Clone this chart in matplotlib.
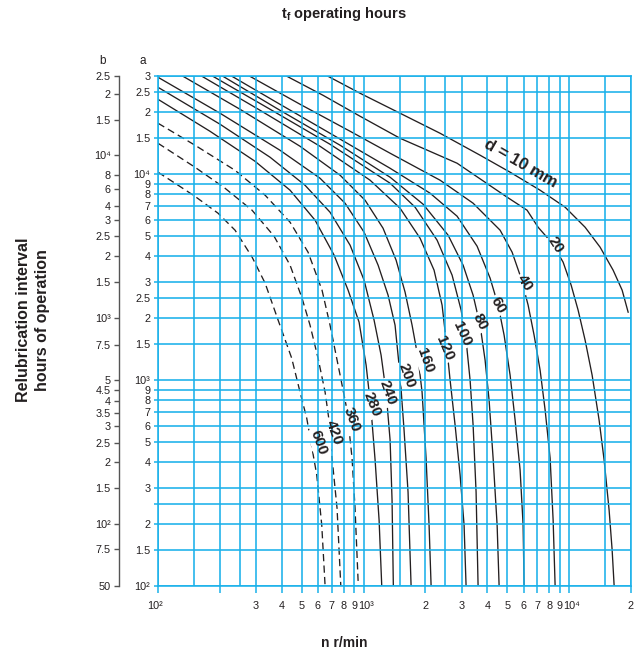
import matplotlib
matplotlib.use('Agg')
import matplotlib.pyplot as plt
from matplotlib.ticker import FixedLocator, NullLocator

plt.rcParams['font.family'] = ['Liberation Sans', 'DejaVu Sans']
plt.rcParams['mathtext.fontset'] = 'custom'
plt.rcParams['mathtext.rm'] = 'Liberation Sans'
plt.rcParams['mathtext.bf'] = 'Liberation Sans:bold'
plt.rcParams['mathtext.it'] = 'Liberation Sans:italic'

# ---------------- data (n in r/min, tf on scale a) ----------------
n_10 = [672, 962, 1505, 2357, 3689, 5163, 7225, 9561, 11960, 14150, 16370, 18110, 19370]
tf_10 = [29900, 24730, 19780, 15810, 12370, 10230, 8363, 6917, 5528, 4422, 3420, 2735, 2138]

n_20 = [424, 635, 962, 1505, 2851, 4993, 6245, 7066, 8267, 9350, 10230, 11060, 11960, 12940,
        13990, 14800, 15650, 16190, 16560]
tf_20 = [29900, 24180, 19120, 14950, 11310, 7735, 6687, 5528, 4624, 3739, 2892, 2187, 1564, 1057,
         640, 409, 233.8, 149.6, 100]

n_40 = [280, 491, 860, 1346, 2357, 3411, 4616, 5280, 5840, 6318, 6755, 7225, 7644, 8082, 8360, 8549]
tf_40 = [29900, 21870, 16170, 12650, 9352, 7232, 5348, 4182, 3127, 2313, 1653, 1118, 715, 418, 209, 100]

n_60 = [229, 392, 687, 1346, 2107, 2851, 3567, 4127, 4514, 4828, 5163, 5461, 5775, 5973, 6039]
tf_60 = [29900, 21870, 15810, 10690, 8088, 6254, 4472, 3127, 2313, 1653, 1057, 640, 365.7, 197.8, 100]

n_80 = [207, 392, 769, 1346, 1948, 2578, 3050, 3411, 3689, 3901, 4080, 4268, 4464, 4565]
tf_80 = [29900, 20450, 13830, 9670, 7152, 5057, 3616, 2586, 1849, 1251, 800, 418, 197.8, 100]

n_100 = [185, 351, 687, 1346, 1781, 2279, 2696, 2983, 3153, 3298, 3411, 3527, 3607]
tf_100 = [29900, 20680, 13980, 9045, 6917, 4782, 3234, 2187, 1564, 1000, 604.8, 285.9, 100]

n_120 = [163.7, 313.6, 614, 1076, 1505, 1883, 2203, 2410, 2520, 2636, 2788, 2949, 3083, 3153]
tf_120 = [29900, 20450, 13670, 9352, 6839, 4890, 3420, 2313, 1564, 1000, 604.8, 345.8, 197.8, 100]

n_160 = [132.4, 250.6, 491, 769, 1017, 1244, 1440, 1592, 1722, 1842, 1926, 2014, 2083, 2131]
tf_160 = [29900, 20680, 13670, 9888, 7479, 5467, 3824, 2674, 1849, 1279, 874, 418, 197.8, 100]

n_200 = [100, 200.4, 392, 614, 813, 1006, 1177, 1316, 1423, 1505, 1574, 1646, 1703]
tf_200 = [29580, 19780, 13080, 9563, 7232, 5229, 3616, 2586, 1849, 1057, 571.9, 285.9, 100]

n_240 = [100, 200.4, 351, 519, 687, 860, 1006, 1125, 1217, 1287, 1346, 1376, 1396]
tf_240 = [26440, 17490, 12090, 8843, 6539, 4522, 3058, 1956, 1322, 874, 511.2, 261.5, 100]

n_280 = [100, 179, 296.5, 439, 581, 719, 841, 951, 1029, 1088, 1138, 1190, 1226]
tf_280 = [23120, 16170, 11560, 8363, 5980, 4044, 2735, 1912, 1183, 715, 409, 209, 100]

n_360 = [100, 151.4, 237, 332, 439, 537, 628, 687, 769, 831, 879, 909, 943]
tf_360 = [17690, 13830, 10450, 7910, 5848, 4182, 2735, 1849, 1057, 715, 418, 239, 100]

n_420 = [100, 151.4, 211.8, 286.7, 367, 439, 502, 549, 600.6, 650, 679, 702.6, 743, 775]
tf_420 = [14140, 10810, 8551, 6687, 5000, 3616, 2500, 1849, 1279, 874, 640, 418, 239, 100]

n_600 = [100, 121, 151, 196, 237, 287, 332, 384, 447, 491, 529, 592, 626, 650]
tf_600 = [10230, 9045, 7820, 6465, 5350, 3955, 2957, 1956, 1279, 874, 654, 346, 198, 100]

solid_curves = [(n_10, tf_10), (n_20, tf_20), (n_40, tf_40), (n_60, tf_60), (n_80, tf_80),
                (n_100, tf_100), (n_120, tf_120), (n_160, tf_160), (n_200, tf_200),
                (n_240, tf_240), (n_280, tf_280)]
dashed_curves = [(n_360, tf_360), (n_420, tf_420), (n_600, tf_600)]

curve_labels = ['d = 10 mm', '20', '40', '60', '80', '100', '120', '160', '200', '240', '280',
                '360', '420', '600']
label_n = [5775, 8549, 6107, 4514, 3689, 3016, 2493, 1993, 1628, 1316, 1100, 879, 718.6, 607.4]
label_tf = [11310, 4522, 2957, 2313, 1912, 1672, 1430, 1251, 1057, 874, 764.7, 646.7, 553, 500]
label_rot = [-30, -57, -57, -60, -63, -65, -67, -70, -70, -70, -68, -70, -70, -70]

x_grid = [100, 150, 200, 250, 300, 400, 500, 600, 700, 800, 900, 1000, 1500, 2000, 2500, 3000,
          4000, 5000, 6000, 7000, 8000, 9000, 10000, 15000, 20000]
x_ticks = [100, 200, 300, 400, 500, 600, 700, 800, 900, 1000, 2000, 3000, 4000, 5000, 6000,
           7000, 8000, 9000, 10000, 20000]
x_ticklabels = ['10²', '', '3', '4', '5', '6', '7', '8', '9', '10³', '2', '3', '4', '5',
                '6', '7', '8', '9', '10⁴', '2']

a_ticks = [100, 150, 200, 250, 300, 400, 500, 600, 700, 800, 900, 1000, 1500, 2000, 2500, 3000,
           4000, 5000, 6000, 7000, 8000, 9000, 10000, 15000, 20000, 25000, 30000]
a_ticklabels = ['10²', '1.5', '2', '', '3', '4', '5', '6', '7', '8', '9', '10³', '1.5', '2',
                '2.5', '3', '4', '5', '6', '7', '8', '9', '10⁴', '1.5', '2', '2.5', '3']

# b scale: label and its position on the a scale
b_ticklabels = ['50', '7.5', '10²', '1.5', '2', '2.5', '3', '3.5', '4', '4.5', '5', '7.5',
                '10³', '1.5', '2', '2.5', '3', '4', '6', '8', '10⁴', '1.5', '2', '2.5']
b_tick_at_a = [100, 150.7, 199.3, 300, 398.6, 496, 598, 694, 793, 894, 1000, 1479,
               2006, 3001, 4000, 5000, 5980, 7018, 8522, 9966, 12460, 18440, 24450, 29900]

# ---------------- drawing ----------------
BLUE = '#1ab1ea'
DARK = '#231f20'
FS_TICK = 7.8

fig = plt.figure(figsize=(6.44, 6.56), dpi=100)
W, H = 644, 656
L, R, T, B = 158, 631, 76, 586
pos = [L / W, 1 - B / H, (R - L) / W, (B - T) / H]
ax = fig.add_axes(pos)
ax.set_xscale('log')
ax.set_yscale('log')
ax.set_xlim(100, 20000)
ax.set_ylim(100, 30000)

for v in x_grid:
    ax.axvline(v, color=BLUE, lw=1.15, zorder=3)
for v in a_ticks:
    ax.axhline(v, color=BLUE, lw=1.15, zorder=3)

for n, t in solid_curves:
    ax.plot(n, t, color=DARK, lw=0.95, zorder=2, solid_joinstyle='round')
for n, t in dashed_curves:
    ax.plot(n, t, color=DARK, lw=0.95, zorder=2, dashes=(5.5, 3.2))

for i, (lab, xn, yt, rot) in enumerate(zip(curve_labels, label_n, label_tf, label_rot)):
    fs = 12 if i == 0 else 11
    if i > 0:
        ax.text(xn, yt, lab, rotation=rot, ha='center', va='center', fontsize=fs,
                fontweight='bold', color='white', zorder=2.5, rotation_mode='anchor',
                bbox=dict(boxstyle='square,pad=0.12', fc='white', ec='none'))
    ax.text(xn, yt, lab, rotation=rot, ha='center', va='center', fontsize=fs,
            fontweight='bold', color=DARK, zorder=5, rotation_mode='anchor')

# x axis ticks; labels drawn so that the "10" of a power sits on its tick
ax.xaxis.set_major_locator(FixedLocator(x_ticks))
ax.xaxis.set_minor_locator(NullLocator())
ax.set_xticklabels([''] * len(x_ticks))
ax.tick_params(axis='x', direction='out', length=5, width=1.1, color=BLUE)
for v, lab in zip(x_ticks, x_ticklabels):
    if not lab:
        continue
    dx = 0.0
    if lab.startswith('10'):
        dx = -2.0 if v == x_ticks[0] else 2.0
    ax.annotate(lab, xy=(v, 0), xycoords=('data', 'axes fraction'),
                xytext=(dx, -16.5), textcoords='offset points', ha='center',
                va='baseline', fontsize=FS_TICK, color=DARK, annotation_clip=False)

ax.yaxis.set_major_locator(FixedLocator(a_ticks))
ax.yaxis.set_minor_locator(NullLocator())
ax.set_yticklabels(a_ticklabels)
ax.tick_params(axis='y', direction='out', length=3, width=1.1, color=BLUE,
               labelcolor=DARK, labelsize=FS_TICK, pad=2.5)
for s in ax.spines.values():
    s.set_color(BLUE)
    s.set_linewidth(1.15)
    s.set_zorder(3)

# b axis
axb = fig.add_axes(pos)
axb.set_yscale('log')
axb.set_ylim(100, 30000)
axb.patch.set_visible(False)
axb.xaxis.set_visible(False)
for k in ['top', 'right', 'bottom']:
    axb.spines[k].set_visible(False)
axb.spines['left'].set_position(('outward', 28))
axb.spines['left'].set_color('#555555')
axb.spines['left'].set_linewidth(1.0)
axb.yaxis.set_major_locator(FixedLocator(b_tick_at_a))
axb.yaxis.set_minor_locator(NullLocator())
axb.set_yticklabels(b_ticklabels)
axb.tick_params(axis='y', direction='out', length=3.5, width=1.0, color='#555555',
                labelcolor=DARK, labelsize=FS_TICK, pad=2.5)

# headers and labels
fig.text(103 / W, 1 - 61 / H, 'b', ha='center', va='center', fontsize=8.5, color=DARK)
fig.text(143 / W, 1 - 61 / H, 'a', ha='center', va='center', fontsize=8.5, color=DARK)
fig.text(0.534, 1 - 14 / H, r'$\mathbf{t_f}$ operating hours', ha='center', va='center',
         fontsize=10.5, fontweight='bold', color=DARK)
fig.text(0.534, 1 - 643 / H, 'n r/min', ha='center', va='center', fontsize=10,
         fontweight='bold', color=DARK)
fig.text(33 / W, 1 - 320 / H, 'Relubrication interval\nhours of operation', rotation=90,
         ha='center', va='center', fontsize=11.5, fontweight='bold', color=DARK,
         linespacing=1.3, multialignment='center')

fig.savefig('out.png', dpi=100)
